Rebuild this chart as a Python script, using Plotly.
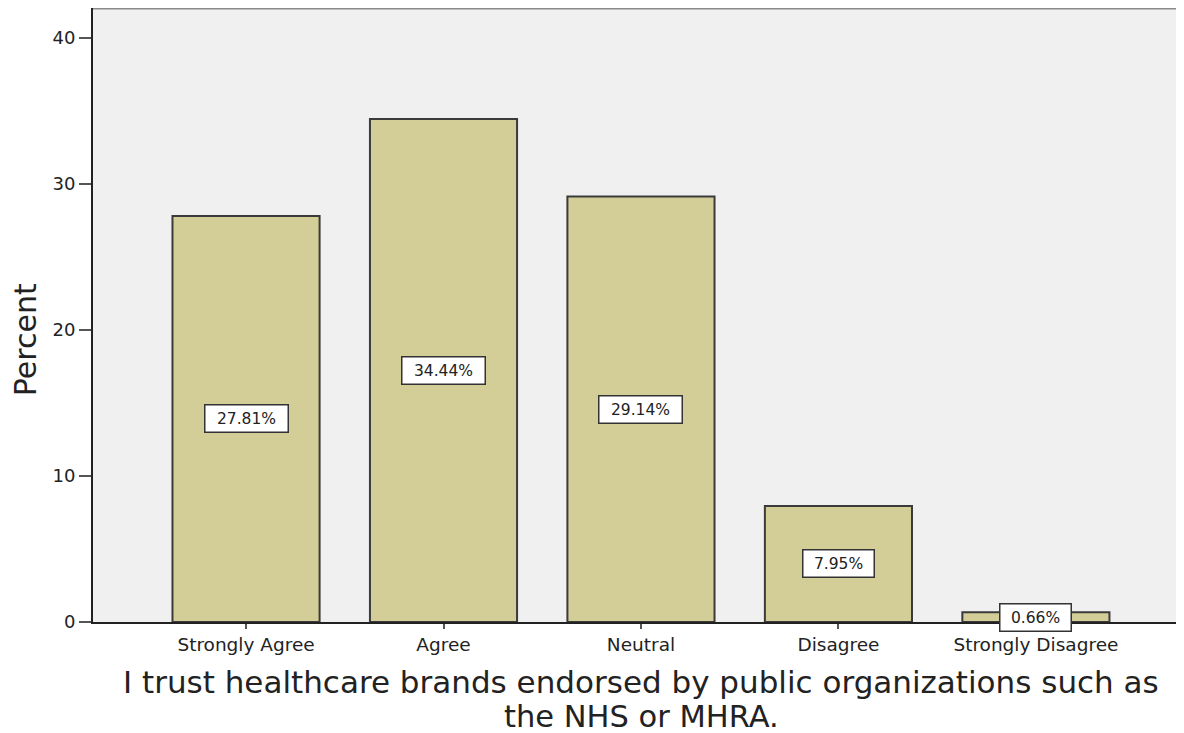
import plotly.graph_objects as go

categories = ["Strongly Agree", "Agree", "Neutral", "Disagree", "Strongly Disagree"]
percents = [27.81, 34.44, 29.14, 7.95, 0.66]
label_texts = ["27.81%", "34.44%", "29.14%", "7.95%", "0.66%"]
y_ticks = [0, 10, 20, 30, 40]
x_title_lines = ["I trust healthcare brands endorsed by public organizations such as",
                 "the NHS or MHRA."]
y_title = "Percent"

FONT = "DejaVu Sans"

fig = go.Figure()
fig.add_trace(go.Bar(
    x=list(range(len(categories))),
    y=percents,
    width=0.745,
    marker=dict(color="#D3CE97", line=dict(color="#3a3a3a", width=2)),
    hoverinfo="skip",
))

for i, (v, t) in enumerate(zip(percents, label_texts)):
    fig.add_annotation(
        x=i, y=v / 2, xref="x", yref="y", text=t, showarrow=False,
        font=dict(family=FONT, size=15.5, color="#222"),
        width=76 if len(t) > 5 else 64, height=20,
        bgcolor="white", bordercolor="#333", borderwidth=1.5, borderpad=3,
    )

# axis titles
fig.add_annotation(x=0.5023, y=-0.0977, xref="paper", yref="paper", text=x_title_lines[0],
                   showarrow=False, xanchor="center", yanchor="middle",
                   font=dict(family=FONT, size=31, color="#222"))
fig.add_annotation(x=0.5023, y=-0.1531, xref="paper", yref="paper", text=x_title_lines[1],
                   showarrow=False, xanchor="center", yanchor="middle",
                   font=dict(family=FONT, size=30.5, color="#222"))
fig.add_annotation(x=-0.0623, y=0.459, xref="paper", yref="paper", text=y_title,
                   showarrow=False, textangle=-90, xanchor="center", yanchor="middle",
                   font=dict(family=FONT, size=30, color="#222"))

# top border of plot area
fig.add_shape(type="line", xref="paper", yref="paper", x0=0, x1=1, y0=1, y1=1,
              line=dict(color="#8a8a8a", width=3))

fig.update_layout(
    width=1176, height=725,
    margin=dict(l=85, r=0, t=0, b=111),
    paper_bgcolor="white",
    plot_bgcolor="#F0F0F0",
    showlegend=False,
    font=dict(family=FONT, color="#222"),
    xaxis=dict(
        range=[-0.775, 4.75],
        tickvals=list(range(len(categories))),
        ticktext=categories,
        tickfont=dict(family=FONT, size=18.5, color="#222"),
        showline=True, linecolor="#222", linewidth=2,
        ticks="outside", ticklen=5, tickwidth=2, tickcolor="#555",
        showgrid=False, zeroline=False,
        automargin=False,
    ),
    yaxis=dict(
        range=[0, 42.05],
        tickvals=y_ticks,
        tickfont=dict(family=FONT, size=18, color="#222"),
        showline=True, linecolor="#222", linewidth=2,
        ticks="outside", ticklen=12, tickwidth=2, tickcolor="#555",
        showgrid=False, zeroline=False,
        automargin=False,
    ),
)

fig.write_html("out.html")
